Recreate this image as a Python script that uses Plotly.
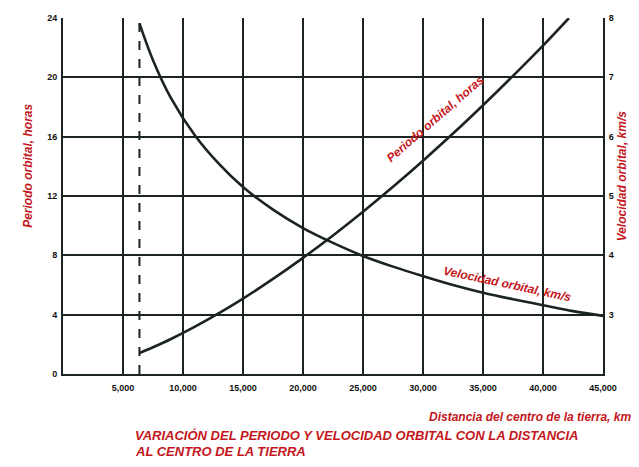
import plotly.graph_objects as go

# --- data ---
distance_period_km = [6371, 7500, 9000, 11000, 13000, 15000, 17500, 20000, 22500,
                      25000, 27500, 30000, 32500, 35000, 37500, 40000, 42164]
period_hours = [1.41, 1.80, 2.36, 3.19, 4.10, 5.08, 6.41, 7.83, 9.34,
                10.94, 12.62, 14.38, 16.21, 18.12, 20.10, 22.14, 24.0]

distance_velocity_km = [6371, 7500, 9000, 11000, 13000, 15000, 17500, 20000, 22500,
                        25000, 27500, 30000, 32500, 35000, 37500, 40000, 42500, 45000]
velocity_kms = [7.91, 7.29, 6.65, 6.02, 5.54, 5.15, 4.77, 4.46, 4.21,
                3.99, 3.81, 3.65, 3.50, 3.37, 3.26, 3.16, 3.06, 2.98]

earth_radius_km = 6371

x_tickvals = [5000, 10000, 15000, 20000, 25000, 30000, 35000, 40000, 45000]
x_ticktext = ["5,000", "10,000", "15,000", "20,000", "25,000", "30,000", "35,000", "40,000", "45,000"]
y_tickvals = [0, 4, 8, 12, 16, 20, 24]
y2_tickvals = [3, 4, 5, 6, 7, 8]

RED = "#c4161c"
INK = "#1c2323"
FONT = "Liberation Sans"

fig = go.Figure()

fig.add_trace(go.Scatter(
    x=[earth_radius_km, earth_radius_km], y=[0, 24], mode="lines",
    line=dict(color=INK, width=2, dash="dash"), showlegend=False, hoverinfo="skip"))

fig.add_trace(go.Scatter(
    x=distance_period_km, y=period_hours, mode="lines",
    line=dict(color=INK, width=2.6, shape="spline"), showlegend=False))

fig.add_trace(go.Scatter(
    x=distance_velocity_km, y=velocity_kms, mode="lines", yaxis="y2",
    line=dict(color=INK, width=2.6, shape="spline"), showlegend=False))

tickfont = dict(family=FONT, size=9, color="#111", weight="bold")

fig.update_layout(
    width=631, height=459,
    margin=dict(l=55, r=36, t=5, b=93),
    paper_bgcolor="white", plot_bgcolor="white",
    xaxis=dict(range=[0, 45000], tickvals=x_tickvals, ticktext=x_ticktext,
               showgrid=True, gridcolor=INK, gridwidth=2, zeroline=False,
               showline=True, linecolor=INK, linewidth=2, mirror=False,
               ticks="", ticklabelstandoff=4, tickfont=tickfont),
    yaxis=dict(range=[0, 24], tickvals=y_tickvals, showgrid=True, gridcolor=INK,
               gridwidth=2, zeroline=False, showline=True, linecolor=INK,
               linewidth=2, ticks="", tickfont=tickfont, ticklabelstandoff=2),
    yaxis2=dict(range=[2, 8], tickvals=y2_tickvals, overlaying="y", side="right",
                showgrid=False, zeroline=False, showline=True, linecolor=INK,
                linewidth=2, ticks="", tickfont=tickfont, ticklabelstandoff=2),
    showlegend=False,
)

ann_font = dict(family=FONT, size=12, color=RED, weight="bold", style="italic")

fig.add_annotation(text="Periodo orbital, horas", xref="paper", yref="paper",
                   x=-0.083, y=0.765, textangle=-90, showarrow=False, font=ann_font)
fig.add_annotation(text="Velocidad orbital, km/s", xref="paper", yref="paper",
                   x=1.052, y=0.745, textangle=-90, showarrow=False, font=ann_font)
fig.add_annotation(text="Periodo orbital, horas", xref="x", yref="y",
                   x=31000, y=17.2, textangle=-41, showarrow=False, font=ann_font)
fig.add_annotation(text="Velocidad orbital, km/s", xref="x", yref="y",
                   x=37000, y=6.05, textangle=12, showarrow=False, font=ann_font)
fig.add_annotation(text="Distancia del centro de la tierra, km", xref="paper", yref="paper",
                   x=1.055, y=-0.122, xanchor="right", yanchor="middle",
                   showarrow=False, font=ann_font)

title_font = dict(family=FONT, size=13, color=RED, weight="bold", style="italic")
fig.add_annotation(text="VARIACIÓN DEL PERIODO Y VELOCIDAD ORBITAL CON LA DISTANCIA",
                   xref="paper", yref="paper", x=0.13, y=-0.172, xanchor="left",
                   yanchor="middle", showarrow=False, font=title_font)
fig.add_annotation(text="AL CENTRO DE LA TIERRA",
                   xref="paper", yref="paper", x=0.13, y=-0.218, xanchor="left",
                   yanchor="middle", showarrow=False, font=title_font)

fig.write_html("out.html")
